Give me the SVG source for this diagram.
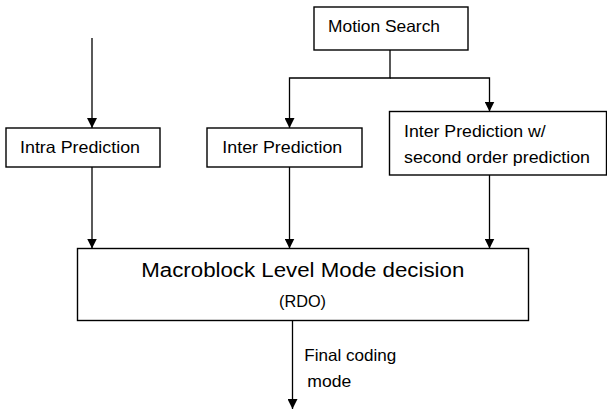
<svg xmlns="http://www.w3.org/2000/svg" width="607" height="412" viewBox="0 0 607 412">
<style>
.box{fill:#fff;stroke:#000;stroke-width:1.4}
.t{font-family:"Liberation Sans",Arial,sans-serif;font-size:16.5px;fill:#000}
.big{font-size:20px}
.line{fill:none;stroke:#000;stroke-width:1.3}
</style>
<defs>
<marker id="ah" markerUnits="userSpaceOnUse" markerWidth="10" markerHeight="10" viewBox="0 0 10 10" refX="10" refY="5" orient="auto">
<path d="M0,0 L10,5 L0,10 Z" fill="#000"/>
</marker>
</defs>
<rect width="607" height="412" fill="#fff"/>
<g id="connectors">
<line class="line" x1="92" y1="38" x2="92" y2="128" marker-end="url(#ah)"/>
<path class="line" d="M390,50 V78 H289.5 V128" marker-end="url(#ah)"/>
<path class="line" d="M390,78 H489.5 V111.5" marker-end="url(#ah)"/>
<line class="line" x1="92" y1="167" x2="92" y2="248.5" marker-end="url(#ah)"/>
<line class="line" x1="289.5" y1="167" x2="289.5" y2="248.5" marker-end="url(#ah)"/>
<line class="line" x1="489.5" y1="175" x2="489.5" y2="248.5" marker-end="url(#ah)"/>
<line class="line" x1="292.5" y1="320.5" x2="292.5" y2="409" marker-end="url(#ah)"/>
<text class="t" x="304.3" y="361" textLength="92" lengthAdjust="spacingAndGlyphs">Final coding</text>
<text class="t" x="307.3" y="387" textLength="44" lengthAdjust="spacingAndGlyphs">mode</text>
</g>
<g id="motion-search">
<rect class="box" x="314" y="7" width="154" height="43"/>
<text class="t" x="328" y="32" textLength="112" lengthAdjust="spacingAndGlyphs">Motion Search</text>
</g>
<g id="intra-prediction">
<rect class="box" x="6" y="128" width="154" height="39"/>
<text class="t" x="20" y="153" textLength="120" lengthAdjust="spacingAndGlyphs">Intra Prediction</text>
</g>
<g id="inter-prediction">
<rect class="box" x="207" y="128" width="155" height="39"/>
<text class="t" x="222.3" y="153" textLength="120" lengthAdjust="spacingAndGlyphs">Inter Prediction</text>
</g>
<g id="inter-prediction-2nd">
<rect class="box" x="389.5" y="111.5" width="217" height="63.5"/>
<text class="t" x="404" y="136.7" textLength="141.7" lengthAdjust="spacingAndGlyphs">Inter Prediction w/</text>
<text class="t" x="404" y="163" textLength="186" lengthAdjust="spacingAndGlyphs">second order prediction</text>
</g>
<g id="mode-decision">
<rect class="box" x="77.5" y="248.5" width="451" height="72"/>
<text class="t big" x="141.3" y="276.7" textLength="323" lengthAdjust="spacingAndGlyphs">Macroblock Level Mode decision</text>
<text class="t" x="279" y="307" font-size="16" textLength="47" lengthAdjust="spacingAndGlyphs">(RDO)</text>
</g>
</svg>
